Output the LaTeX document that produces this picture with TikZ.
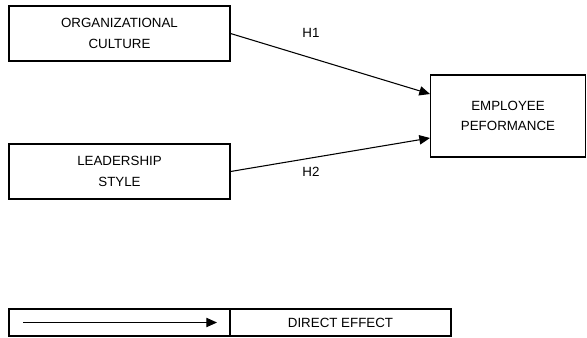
\documentclass[tikz,border=0pt]{standalone}
\usepackage{fontspec}
\setmainfont{Liberation Sans}
\usetikzlibrary{arrows.meta}
\begin{document}
\begin{tikzpicture}[x=0.75pt,y=-0.75pt,
  box/.style={draw, thick, minimum width=221*0.75pt, minimum height=55*0.75pt, align=center, font=\fontsize{10}{15.5}\selectfont, inner sep=0pt},
  lbl/.style={font=\fontsize{10}{12}\selectfont},
  conn/.style={thick, -{Triangle[length=8pt,width=7pt]}}]
\useasboundingbox (0,0) rectangle (587,337);
\node[box] (oc) at (119.5,33.5) {ORGANIZATIONAL\\CULTURE};
\node[box] (ls) at (119.5,171.5) {LEADERSHIP\\STYLE};
\node[box, minimum width=155*0.75pt, minimum height=82*0.75pt] (ep) at (508,116) {EMPLOYEE\\PEFORMANCE};
\coordinate (ep1) at (430,94);
\coordinate (ep2) at (430,138);
\draw[conn] (oc.east) -- (ep1);
\draw[conn] (ls.east) -- (ep2);
\node[lbl] (h1) at (311,33) {H1};
\node[lbl] (h2) at (311,172) {H2};
\node[draw, thick, minimum width=221*0.75pt, minimum height=27*0.75pt, inner sep=0pt] (lg1) at (119.5,322.5) {};
\node[draw, thick, minimum width=221*0.75pt, minimum height=27*0.75pt, inner sep=0pt, font=\fontsize{10}{12}\selectfont] (lg2) at (340.5,322.5) {DIRECT EFFECT};
\coordinate (la) at (23,322.5);
\coordinate (lb) at (217,322.5);
\draw[conn] (la) -- (lb);
\end{tikzpicture}
\end{document}
